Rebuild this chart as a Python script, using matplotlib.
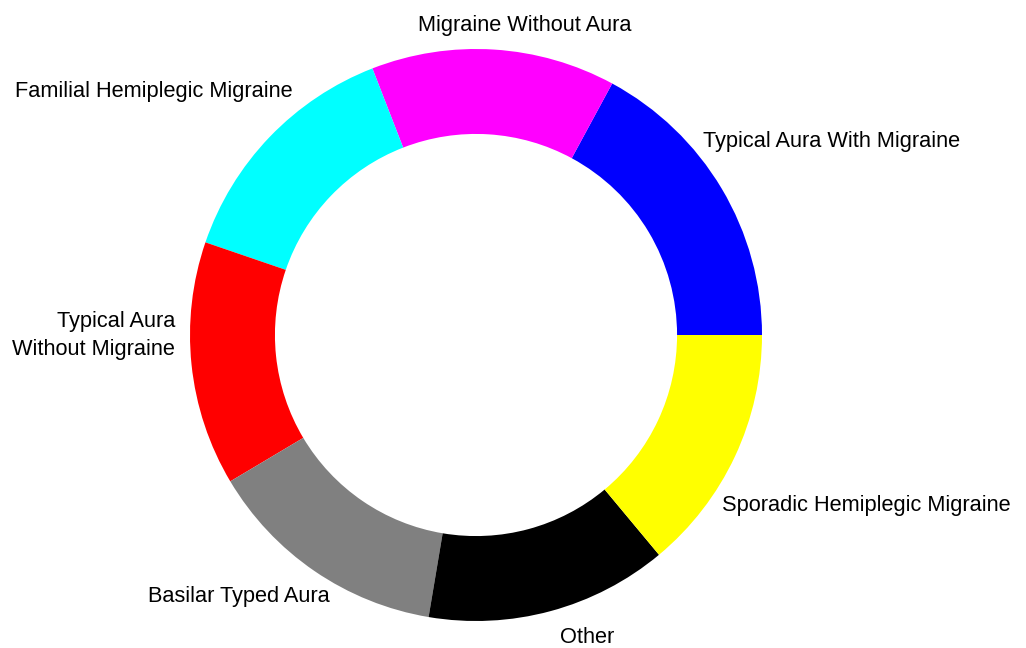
import matplotlib.pyplot as plt

# slice data (blue slice a bit bigger than the rest)
categories = ['Typical Aura With Migraine', 'Migraine Without Aura',
              'Familial Hemiplegic Migraine', 'Typical Aura\nWithout Migraine',
              'Basilar Typed Aura', 'Other', 'Sporadic Hemiplegic Migraine']
values = [17.1, 13.8, 13.85, 13.8, 13.8, 13.7, 13.95]
colors = ['#0000ff', '#ff00ff', '#00ffff', '#ff0000', '#808080', '#000000', '#ffff00']

# label anchor positions (pie radius = 1) and alignment
label_xy = [(0.794, 0.657), (0.171, 1.063), (-0.640, 0.832), (-1.052, -0.070),
            (-0.510, -0.934), (0.390, -1.078), (0.860, -0.615)]
label_ha = ['left', 'center', 'right', 'right', 'right', 'center', 'left']

plt.rcParams['font.family'] = ['Liberation Sans', 'DejaVu Sans']

fig = plt.figure(figsize=(10.26, 6.48), dpi=100)
ax = fig.add_axes([0, 0, 1, 1])

ax.pie(values, colors=colors, startangle=0, counterclock=True,
       radius=1, wedgeprops=dict(width=0.297, linewidth=0))

for name, (x, y), ha in zip(categories, label_xy, label_ha):
    ax.text(x, y, name, ha=ha, va='baseline', fontsize=15.7,
            multialignment='right', linespacing=1.45)

# map figure pixels to data units: center at (476, 335) px, radius 286 px
ax.set_xlim((0 - 476) / 286, (1026 - 476) / 286)
ax.set_ylim((335 - 648) / 286, 335 / 286)
ax.set_aspect('auto')
ax.axis('off')

fig.savefig('out.png', dpi=100)
